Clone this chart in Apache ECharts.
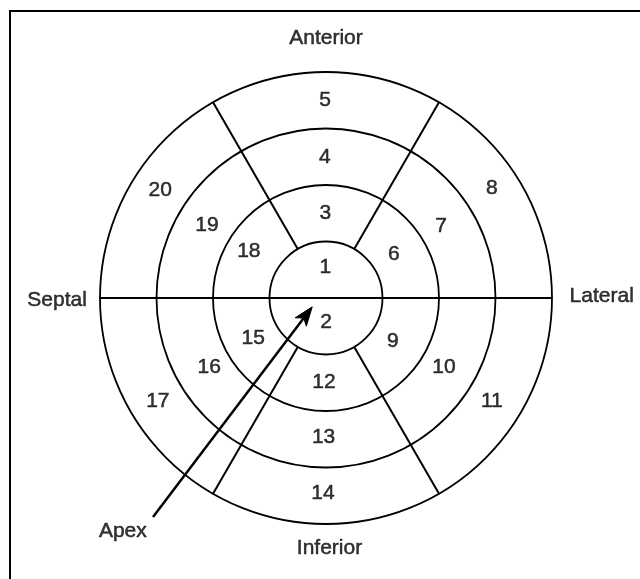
<!DOCTYPE html>
<html>
<head>
<meta charset="utf-8">
<script src="https://cdn.jsdelivr.net/npm/echarts@6/dist/echarts.min.js"></script>
<style>
  html, body { margin: 0; padding: 0; background: #fff; }
  #frame { position: absolute; left: 9px; top: 10px; width: 700px; height: 700px; border-top: 2px solid #000; border-left: 2px solid #000; }
  #chart { position: absolute; left: 0; top: 0; width: 640px; height: 579px; }
</style>
</head>
<body>
<div id="frame"></div>
<div id="chart"></div>
<script>
// Ring boundaries (radius units) drawn as circles
var ringRadii = [1, 2, 3, 4];
// Segment labels: name, radius, angle (deg, counter-clockwise from lateral)
var segmentNames  = ['1', '2', '3', '4', '5', '6', '7', '8', '9', '10', '11', '12', '13', '14', '15', '16', '17', '18', '19', '20'];
var segmentRadius = [0.55, 0.43, 1.5, 2.5, 3.5, 1.43, 2.4, 3.52, 1.41, 2.42, 3.46, 1.49, 2.46, 3.45, 1.47, 2.4, 3.49, 1.6, 2.47, 3.5];
var segmentAngle  = [91, 270.5, 90.5, 90.5, 90.3, 33, 32, 33.5, 327, 329.7, 328, 268.6, 269, 269.1, 208.7, 210.5, 211.5, 148.6, 148.5, 147];
// Wall names placed outside the rings
var wallNames  = ['Anterior', 'Septal', 'Lateral', 'Inferior', 'Apex'];
var wallRadius = [4.6, 4.76, 4.88, 4.43, 5.47];
var wallAngle  = [90, 180.4, 0.4, 270.8, 228.9];
// Dividing lines: [r1, angle1, r2, angle2]
var dividers = [
  [4, 180, 4, 0],
  [1, 60, 4, 60],
  [1, 120, 4, 120],
  [1, 240, 4, 240],
  [1, 300, 4, 300]
];
// Apex arrow: [r from, angle from, r to, angle to]
var apexArrow = [[4.94, 231.7, 0.29, 212.7]];

var font = 'Liberation Sans, Arial, Helvetica, sans-serif';
var labelStyle = { show: true, position: 'inside', formatter: '{b}', color: '#000', fontSize: 21, fontFamily: font, textBorderColor: '#000', textBorderWidth: 0.5 };

var chart = echarts.init(document.getElementById('chart'), null, { renderer: 'canvas' });

var series = [];
dividers.forEach(function (d, i) {
  series.push({
    type: 'line',
    coordinateSystem: 'polar',
    data: [[d[0], d[1]], [d[2], d[3]]],
    symbol: 'none',
    silent: true,
    animation: false,
    lineStyle: { color: '#000', width: 2 }
  });
});

series.push({
  type: 'scatter',
  coordinateSystem: 'polar',
  clip: false,
  symbolSize: 0,
  silent: true,
  animation: false,
  data: segmentNames.map(function (n, i) { return { name: n, value: [segmentRadius[i], segmentAngle[i]] }; }),
  label: labelStyle
});

series.push({
  type: 'scatter',
  coordinateSystem: 'polar',
  clip: false,
  symbolSize: 0,
  silent: true,
  animation: false,
  data: wallNames.map(function (n, i) { return { name: n, value: [wallRadius[i], wallAngle[i]] }; }),
  label: labelStyle
});

series.push({
  type: 'custom',
  coordinateSystem: 'polar',
  silent: true,
  animation: false,
  data: apexArrow,
  renderItem: function (params, api) {
    var p1 = api.coord([api.value(0), api.value(1)]);
    var p2 = api.coord([api.value(2), api.value(3)]);
    var dx = p2[0] - p1[0], dy = p2[1] - p1[1];
    var len = Math.sqrt(dx * dx + dy * dy);
    var ux = dx / len, uy = dy / len;
    var nx = -uy, ny = ux;
    var headLen = 19, headW = 7, notch = 5;
    var back = [p2[0] - ux * headLen, p2[1] - uy * headLen];
    var notchP = [p2[0] - ux * (headLen - notch), p2[1] - uy * (headLen - notch)];
    return {
      type: 'group',
      children: [
        {
          type: 'line',
          shape: { x1: p1[0], y1: p1[1], x2: notchP[0], y2: notchP[1] },
          style: { stroke: '#000', lineWidth: 2.5 }
        },
        {
          type: 'polygon',
          shape: { points: [p2, [back[0] + nx * headW, back[1] + ny * headW], notchP, [back[0] - nx * headW, back[1] - ny * headW]] },
          style: { fill: '#000', stroke: '#000', lineWidth: 1 }
        }
      ]
    };
  }
});

chart.setOption({
  animation: false,
  backgroundColor: 'transparent',
  polar: { center: [326, 298], radius: 226 },
  angleAxis: {
    type: 'value', min: 0, max: 360, startAngle: 0, clockwise: false,
    axisLine: { show: false }, axisTick: { show: false }, axisLabel: { show: false }, splitLine: { show: false }
  },
  radiusAxis: {
    type: 'value', min: 0, max: ringRadii[ringRadii.length - 1], interval: 1,
    axisLine: { show: false }, axisTick: { show: false }, axisLabel: { show: false },
    splitLine: { show: true, lineStyle: { color: '#000', width: 1.8, type: 'solid' } }
  },
  series: series
});
</script>
</body>
</html>
